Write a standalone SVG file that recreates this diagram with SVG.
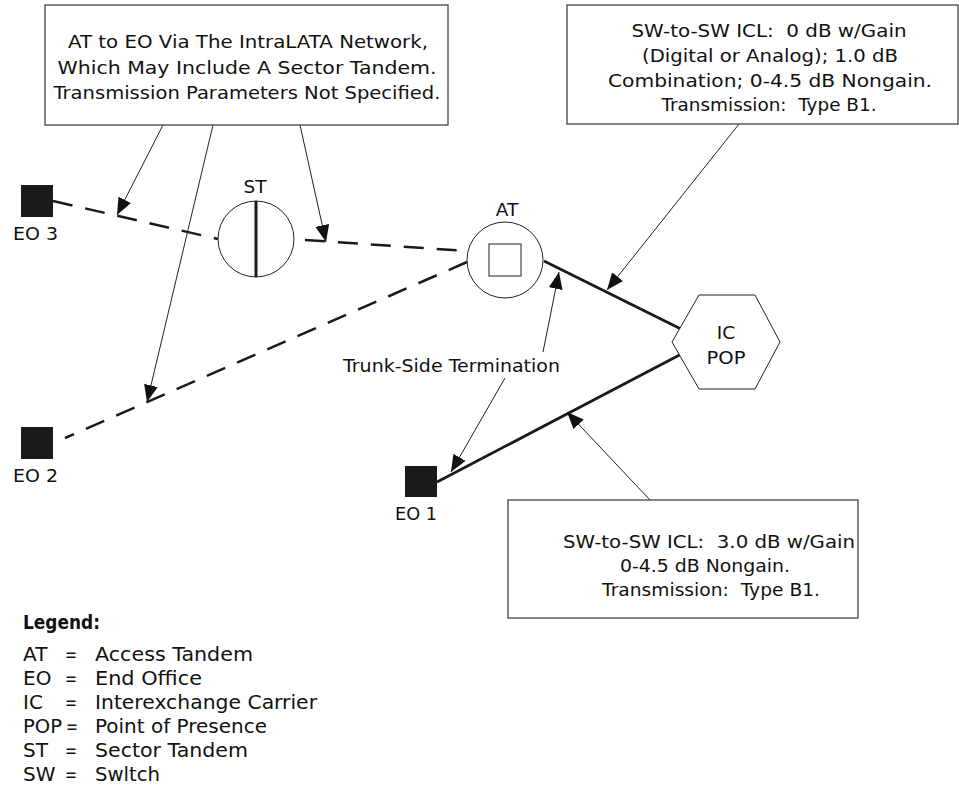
<svg xmlns="http://www.w3.org/2000/svg" width="959" height="791" viewBox="0 0 959 791">
<style>
text{font-family:"DejaVu Sans","Liberation Sans",sans-serif;fill:#111;}
.bt{font-size:18.5px;text-anchor:middle;}
.lb{font-size:18.5px;}
.lg{font-size:20px;}
.box{fill:#fff;stroke:#444;stroke-width:1.3;}
.eo{fill:#1a1a1a;stroke:none;}
.nd{fill:#fff;stroke:#222;stroke-width:1;}
.dash{fill:none;stroke:#1a1a1a;stroke-width:2.5;stroke-dasharray:20 13;}
.solid{fill:none;stroke:#1a1a1a;stroke-width:2.8;}
.tick{fill:none;stroke:#1a1a1a;stroke-width:1.5;}
.ptr{fill:none;stroke:#222;stroke-width:1;marker-end:url(#ah);}
</style>
<defs>
<marker id="ah" markerUnits="userSpaceOnUse" markerWidth="18" markerHeight="14" refX="17" refY="7" orient="auto">
<path d="M0,0 L17,7 L0,14 z" fill="#111"/>
</marker>
</defs>

<g id="connectors">
<line class="dash" x1="53" y1="201" x2="218" y2="239"/>
<line class="dash" x1="305" y1="240" x2="468" y2="251"/>
<line class="dash" x1="467" y1="262" x2="65" y2="438"/>
<line class="solid" x1="544" y1="261" x2="689" y2="333"/>
<line class="tick" x1="691" y1="329" x2="687" y2="337"/>
<line class="solid" x1="689" y1="350" x2="437" y2="482"/>
<line class="tick" x1="687" y1="346" x2="691" y2="354"/>
<line class="ptr" x1="163" y1="125" x2="117" y2="215"/>
<line class="ptr" x1="213" y1="125" x2="147" y2="402"/>
<line class="ptr" x1="300" y1="125" x2="326" y2="242"/>
<line class="ptr" x1="739" y1="124" x2="607" y2="290"/>
<line class="ptr" x1="543" y1="352" x2="559" y2="272"/>
<line class="ptr" x1="505" y1="378" x2="451" y2="472"/>
<line class="ptr" x1="650" y1="500" x2="567" y2="412"/>
</g>

<g id="note-intralata">
<rect class="box" x="45" y="5" width="403" height="120"/>
<text class="bt" x="248" y="48" textLength="360" lengthAdjust="spacingAndGlyphs">AT to EO Via The IntraLATA Network,</text>
<text class="bt" x="247" y="74" textLength="379" lengthAdjust="spacingAndGlyphs">Which May Include A Sector Tandem.</text>
<text class="bt" x="247" y="99" textLength="387" lengthAdjust="spacingAndGlyphs">Transmission Parameters Not Specified.</text>
</g>

<g id="note-icl-at">
<rect class="box" x="567" y="5" width="391" height="119"/>
<text class="bt" x="769" y="37" xml:space="preserve" textLength="275" lengthAdjust="spacingAndGlyphs">SW-to-SW ICL:  0 dB w/Gain</text>
<text class="bt" x="770" y="62" textLength="256" lengthAdjust="spacingAndGlyphs">(Digital or Analog); 1.0 dB</text>
<text class="bt" x="770" y="87" textLength="324" lengthAdjust="spacingAndGlyphs">Combination; 0-4.5 dB Nongain.</text>
<text class="bt" x="769" y="111" xml:space="preserve" textLength="215" lengthAdjust="spacingAndGlyphs">Transmission:  Type B1.</text>
</g>

<g id="note-icl-eo">
<rect class="box" x="508" y="500" width="350" height="118"/>
<text class="bt" x="709" y="548" xml:space="preserve" textLength="292" lengthAdjust="spacingAndGlyphs">SW-to-SW ICL:  3.0 dB w/Gain</text>
<text class="bt" x="705" y="572" textLength="170" lengthAdjust="spacingAndGlyphs">0-4.5 dB Nongain.</text>
<text class="bt" x="711" y="596" xml:space="preserve" textLength="218" lengthAdjust="spacingAndGlyphs">Transmission:  Type B1.</text>
</g>

<g id="eo3">
<rect class="eo" x="21" y="185" width="32" height="32"/>
<text class="lb" x="13" y="240" textLength="45" lengthAdjust="spacingAndGlyphs">EO 3</text>
</g>

<g id="eo2">
<rect class="eo" x="21" y="427" width="32" height="32"/>
<text class="lb" x="13" y="482" textLength="45" lengthAdjust="spacingAndGlyphs">EO 2</text>
</g>

<g id="eo1">
<rect class="eo" x="405" y="466" width="32" height="31"/>
<text class="lb" x="395" y="520" textLength="42" lengthAdjust="spacingAndGlyphs">EO 1</text>
</g>

<g id="st">
<circle class="nd" cx="256" cy="239" r="38"/>
<line x1="256" y1="201" x2="256" y2="277" stroke="#1a1a1a" stroke-width="3"/>
<text class="lb" x="255" y="193" text-anchor="middle">ST</text>
</g>

<g id="at">
<circle class="nd" cx="505" cy="260" r="38"/>
<rect class="nd" x="489" y="244" width="32" height="32"/>
<text class="lb" x="507" y="216" text-anchor="middle">AT</text>
</g>

<g id="ic-pop">
<polygon class="nd" points="672,342 699,295 755,295 780,342 755,389 699,389"/>
<text class="lb" x="726" y="339" text-anchor="middle">IC</text>
<text class="lb" x="726" y="364" text-anchor="middle" textLength="39" lengthAdjust="spacingAndGlyphs">POP</text>
</g>

<g id="trunk-label">
<text class="lb" x="343" y="372" textLength="217" lengthAdjust="spacingAndGlyphs">Trunk-Side Termination</text>
</g>

<g id="legend">
<text class="lg" x="23" y="629" font-weight="bold" textLength="77" lengthAdjust="spacingAndGlyphs">Legend:</text>
<text class="lg" y="661"><tspan x="23">AT</tspan><tspan x="65" textLength="12" lengthAdjust="spacingAndGlyphs">=</tspan><tspan x="95" textLength="158" lengthAdjust="spacingAndGlyphs">Access Tandem</tspan></text>
<text class="lg" y="685"><tspan x="23">EO</tspan><tspan x="65" textLength="12" lengthAdjust="spacingAndGlyphs">=</tspan><tspan x="95" textLength="107" lengthAdjust="spacingAndGlyphs">End Office</tspan></text>
<text class="lg" y="709"><tspan x="23">IC</tspan><tspan x="65" textLength="12" lengthAdjust="spacingAndGlyphs">=</tspan><tspan x="95" textLength="222" lengthAdjust="spacingAndGlyphs">Interexchange Carrier</tspan></text>
<text class="lg" y="733"><tspan x="23" textLength="39" lengthAdjust="spacingAndGlyphs">POP</tspan><tspan x="66" textLength="12" lengthAdjust="spacingAndGlyphs">=</tspan><tspan x="95" textLength="172" lengthAdjust="spacingAndGlyphs">Point of Presence</tspan></text>
<text class="lg" y="757"><tspan x="23">ST</tspan><tspan x="65" textLength="12" lengthAdjust="spacingAndGlyphs">=</tspan><tspan x="95" textLength="153" lengthAdjust="spacingAndGlyphs">Sector Tandem</tspan></text>
<text class="lg" y="781"><tspan x="23">SW</tspan><tspan x="65" textLength="12" lengthAdjust="spacingAndGlyphs">=</tspan><tspan x="95" textLength="65" lengthAdjust="spacingAndGlyphs">Swltch</tspan></text>
</g>
</svg>
